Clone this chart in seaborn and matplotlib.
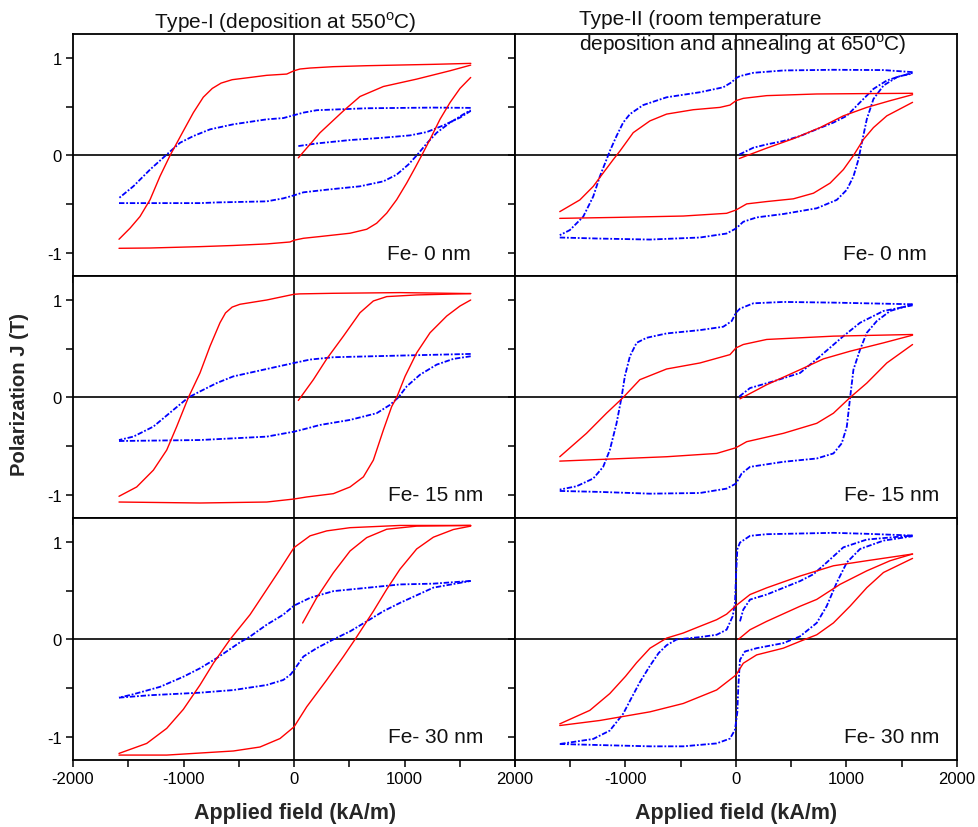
import numpy as np
import pandas as pd
import matplotlib
matplotlib.use("Agg")
import matplotlib.pyplot as plt
import seaborn as sns

# ---------------- data (field kA/m, polarization T) ----------------
# Type-I, Fe 0 nm
T1_0_RED_INIT = [(39,-0.024),(235,0.234),(447,0.459),(597,0.607),(809,0.71),(1110,0.786),(1412,0.872),(1599,0.93)]
T1_0_RED_DOWN = [(1600,0.948),(1261,0.938),(658,0.924),(356,0.914),(145,0.9),(54,0.89),(0,0.872),(-66,0.838),(-247,0.825),
                 (-398,0.803),(-560,0.78),(-660,0.745),(-740,0.69),(-821,0.6),(-911,0.441),(-1002,0.252),(-1122,0.0),
                 (-1213,-0.214),(-1303,-0.455),(-1394,-0.628),(-1484,-0.748),(-1584,-0.862)]
T1_0_RED_UP = [(-1584,-0.955),(-1303,-0.952),(-851,-0.938),(-549,-0.926),(-247,-0.91),(-36,-0.89),(0,-0.872),(85,-0.852),
               (235,-0.834),(507,-0.8),(658,-0.759),(748,-0.697),(839,-0.593),(929,-0.455),(1020,-0.283),(1095,-0.128),
               (1155,0.0),(1231,0.166),(1321,0.372),(1412,0.545),(1502,0.69),(1599,0.803)]
T1_0_BLUE_INIT = [(39,0.097),(205,0.124),(507,0.159),(809,0.183),(1050,0.207),(1201,0.241),(1352,0.31),(1502,0.39),(1599,0.459)]
T1_0_BLUE_DOWN = [(1599,0.49),(1261,0.493),(658,0.486),(205,0.466),(85,0.441),(0,0.415),(-97,0.385),(-247,0.372),(-549,0.321),
                  (-760,0.269),(-911,0.2),(-1032,0.131),(-1152,0.01),(-1303,-0.145),(-1454,-0.317),(-1584,-0.438)]
T1_0_BLUE_UP = [(-1584,-0.49),(-851,-0.49),(-700,-0.483),(-247,-0.472),(-97,-0.441),(0,-0.41),(85,-0.379),(296,-0.352),
                (597,-0.317),(809,-0.266),(929,-0.197),(1035,-0.093),(1110,0.0),(1201,0.124),(1291,0.234),(1412,0.338),
                (1533,0.424),(1599,0.466)]

# Type-II, Fe 0 nm
T2_0_RED_INIT = [(30,-0.031),(278,0.076),(519,0.173),(761,0.287),(972,0.408),(1184,0.495),(1395,0.564),(1598,0.626)]
T2_0_RED_DOWN = [(1598,0.64),(1184,0.637),(731,0.633),(278,0.616),(66,0.588),(0,0.564),(-54,0.519),(-145,0.495),(-387,0.471),
                 (-628,0.426),(-779,0.356),(-930,0.235),(-1051,0.045),(-1111,-0.042),(-1202,-0.18),(-1292,-0.318),
                 (-1413,-0.457),(-1595,-0.578)]
T2_0_RED_UP = [(-1595,-0.647),(-1081,-0.637),(-477,-0.623),(-85,-0.595),(0,-0.561),(97,-0.498),(278,-0.474),(519,-0.446),
               (701,-0.388),(852,-0.284),(972,-0.145),(1063,0.0),(1154,0.166),(1244,0.287),(1365,0.408),(1598,0.547)]
T2_0_BLUE_INIT = [(30,0.01),(157,0.08),(278,0.114),(429,0.149),(580,0.2),(731,0.27),(882,0.339),(1003,0.408),(1123,0.547),
                  (1244,0.685),(1365,0.772),(1486,0.817),(1598,0.844)]
T2_0_BLUE_DOWN = [(1598,0.858),(1335,0.879),(882,0.882),(429,0.875),(157,0.851),(36,0.817),(0,0.796),(-39,0.754),(-115,0.702),
                  (-326,0.651),(-628,0.599),(-840,0.519),(-960,0.426),(-1021,0.339),(-1081,0.201),(-1142,0.045),
                  (-1172,-0.042),(-1232,-0.215),(-1292,-0.422),(-1383,-0.63),(-1504,-0.768),(-1595,-0.82)]
T2_0_BLUE_UP = [(-1595,-0.844),(-1232,-0.855),(-779,-0.865),(-326,-0.844),(-85,-0.803),(0,-0.751),(66,-0.682),(187,-0.637),
                (429,-0.602),(731,-0.543),(912,-0.457),(1003,-0.353),(1063,-0.215),(1108,-0.042),(1139,0.131),(1184,0.374),
                (1244,0.581),(1335,0.72),(1456,0.806),(1598,0.851)]

# Type-I, Fe 15 nm
T1_15_RED_INIT = [(39,-0.031),(175,0.183),(296,0.397),(447,0.631),(597,0.872),(718,0.993),(839,1.038),(1110,1.055),(1599,1.069)]
T1_15_RED_DOWN = [(1599,1.069),(959,1.079),(356,1.072),(54,1.066),(0,1.062),(-247,1.003),(-489,0.959),(-560,0.93),
                  (-620,0.87),(-670,0.769),(-760,0.528),(-851,0.252),(-956,0.0),(-1062,-0.3),(-1152,-0.541),(-1273,-0.748),
                  (-1424,-0.921),(-1584,-1.017)]
T1_15_RED_UP = [(-1584,-1.076),(-851,-1.086),(-247,-1.076),(0,-1.045),(115,-1.024),(356,-0.99),(507,-0.921),
                (628,-0.817),(718,-0.645),(809,-0.334),(884,-0.093),(929,0.0),(1005,0.217),(1110,0.459),(1231,0.666),
                (1382,0.838),(1502,0.941),(1599,1.003)]
T1_15_BLUE_DOWN = [(1599,0.448),(959,0.431),(356,0.414),(145,0.39),(0,0.355),(-247,0.293),(-549,0.217),(-700,0.148),
                   (-851,0.062),(-956,0.0),(-1092,-0.128),(-1273,-0.3),(-1454,-0.403),(-1584,-0.438)]
T1_15_BLUE_UP = [(-1584,-0.448),(-851,-0.438),(-247,-0.403),(0,-0.352),(85,-0.328),(235,-0.283),(507,-0.231),
                 (748,-0.162),(869,-0.076),(944,0.0),(1020,0.114),(1140,0.234),(1291,0.338),(1442,0.397),(1599,0.424)]

# Type-II, Fe 15 nm
T2_15_RED_INIT = [(36,-0.014),(278,0.131),(580,0.286),(791,0.397),(1033,0.476),(1335,0.562),(1598,0.641)]
T2_15_RED_DOWN = [(1598,0.648),(882,0.631),(278,0.597),(66,0.545),(0,0.51),(-54,0.441),(-326,0.355),(-628,0.293),
                  (-870,0.183),(-1021,0.0),(-1172,-0.162),(-1353,-0.369),(-1595,-0.61)]
T2_15_RED_UP = [(-1595,-0.655),(-1232,-0.638),(-628,-0.61),(-175,-0.576),(0,-0.517),(97,-0.455),(429,-0.369),(731,-0.266),
                (882,-0.162),(1033,0.0),(1184,0.148),(1365,0.355),(1598,0.545)]
T2_15_BLUE_INIT = [(30,0.01),(127,0.097),(338,0.166),(580,0.252),(761,0.424),(972,0.631),(1123,0.769),(1335,0.89),(1598,0.948)]
T2_15_BLUE_DOWN = [(1598,0.959),(882,0.976),(429,0.983),(157,0.969),(36,0.914),(0,0.872),(-39,0.786),(-115,0.728),(-326,0.693),
                   (-628,0.659),(-809,0.614),(-900,0.562),(-960,0.424),(-1006,0.217),(-1036,0.0),(-1081,-0.266),
                   (-1142,-0.541),(-1202,-0.714),(-1292,-0.834),(-1443,-0.914),(-1595,-0.948)]
T2_15_BLUE_UP = [(-1595,-0.962),(-1232,-0.972),(-779,-0.99),(-326,-0.983),(-85,-0.938),(0,-0.886),(51,-0.783),(127,-0.714),
                 (429,-0.662),(731,-0.628),(882,-0.576),(957,-0.472),(1003,-0.3),(1033,0.0),(1063,0.286),(1123,0.493),
                 (1184,0.666),(1274,0.786),(1395,0.89),(1598,0.959)]

# Type-I, Fe 30 nm
T1_30_RED_INIT = [(78,0.169),(205,0.428),(356,0.686),(507,0.91),(658,1.048),(839,1.134),(1110,1.166),(1599,1.173)]
T1_30_RED_DOWN = [(1599,1.173),(959,1.173),(507,1.15),(296,1.117),(145,1.066),(0,0.945),(-127,0.72),(-247,0.514),
                  (-398,0.255),(-579,0.0),(-730,-0.245),(-851,-0.469),(-1002,-0.72),(-1152,-0.915),(-1333,-1.07),
                  (-1584,-1.173)]
T1_30_RED_UP = [(-1584,-1.19),(-1152,-1.19),(-851,-1.169),(-549,-1.148),(-308,-1.107),(-127,-1.02),(0,-0.9),(115,-0.693),
                (296,-0.417),(447,-0.176),(552,0.0),(718,0.29),(839,0.516),(959,0.723),(1110,0.931),(1261,1.052),
                (1442,1.131),(1599,1.166)]
T1_30_BLUE_DOWN = [(1599,0.602),(1261,0.574),(959,0.566),(658,0.531),(356,0.497),(145,0.428),(0,0.348),(-97,0.255),
                   (-247,0.152),(-398,0.03),(-489,-0.03),(-700,-0.193),(-851,-0.297),(-1002,-0.384),(-1213,-0.488),
                   (-1454,-0.564),(-1584,-0.599)]
T1_30_BLUE_UP = [(-1584,-0.599),(-1303,-0.574),(-851,-0.548),(-549,-0.521),(-247,-0.469),(-97,-0.417),(-30,-0.36),(0,-0.314),
                 (85,-0.176),(205,-0.09),(356,0.0),(507,0.083),(658,0.186),(808,0.29),(959,0.376),(1261,0.533),(1599,0.602)]

# Type-II, Fe 30 nm
T2_30_RED_INIT = [(21,0.0),(127,0.1),(278,0.186),(579,0.341),(731,0.412),(942,0.567),(1184,0.706),(1395,0.81),(1598,0.879)]
T2_30_RED_DOWN = [(1598,0.879),(1184,0.81),(882,0.758),(579,0.652),(278,0.531),(127,0.462),(0,0.348),(-85,0.26),
                  (-175,0.203),(-326,0.135),(-477,0.066),(-627,0.014),(-778,-0.09),(-900,-0.24),(-1000,-0.38),
                  (-1142,-0.557),(-1323,-0.73),(-1595,-0.869)]
T2_30_RED_UP = [(-1595,-0.886),(-1232,-0.834),(-778,-0.745),(-477,-0.659),(-175,-0.52),(0,-0.366),(66,-0.245),(187,-0.159),
                (428,-0.09),(579,-0.02),(731,0.048),(882,0.17),(1033,0.343),(1184,0.533),(1335,0.689),(1598,0.834)]
T2_30_BLUE_INIT = [(36,0.186),(66,0.307),(127,0.41),(278,0.462),(579,0.6),(701,0.671),(821,0.792),(972,0.948),
                   (1184,1.028),(1598,1.069)]
T2_30_BLUE_DOWN = [(1598,1.069),(1184,1.087),(882,1.097),(278,1.083),(127,1.066),(36,0.997),(12,0.928),(2,0.7),(-9,0.376),
                   (-30,0.238),(-85,0.1),(-175,0.048),(-326,0.024),(-537,0.0),(-628,-0.06),(-700,-0.14),(-778,-0.27),
                   (-870,-0.44),(-945,-0.6),(-1021,-0.765),(-1142,-0.938),(-1292,-1.024),(-1595,-1.076)]
T2_30_BLUE_UP = [(-1595,-1.076),(-1232,-1.087),(-779,-1.1),(-477,-1.1),(-175,-1.07),(-54,-1.02),(-9,-0.93),(12,-0.75),
                 (21,-0.49),(36,-0.21),(81,-0.124),(187,-0.09),(428,-0.038),(579,0.031),(731,0.17),(821,0.343),
                 (912,0.585),(1003,0.792),(1123,0.931),(1335,1.017),(1598,1.062)]

COL_TITLES = ["Type-I (deposition at 550$^\\mathrm{o}$C)",
              ["Type-II (room temperature", "deposition and annealing at 650$^\\mathrm{o}$C)"]]
ROW_LABELS = ["Fe- 0 nm", "Fe- 15 nm", "Fe- 30 nm"]
X_LABEL = "Applied field (kA/m)"
Y_LABEL = "Polarization J (T)"

PANELS = [
    [dict(red=[T1_0_RED_INIT, T1_0_RED_DOWN, T1_0_RED_UP], blue=[T1_0_BLUE_INIT, T1_0_BLUE_DOWN, T1_0_BLUE_UP]),
     dict(red=[T2_0_RED_INIT, T2_0_RED_DOWN, T2_0_RED_UP], blue=[T2_0_BLUE_INIT, T2_0_BLUE_DOWN, T2_0_BLUE_UP])],
    [dict(red=[T1_15_RED_INIT, T1_15_RED_DOWN, T1_15_RED_UP], blue=[T1_15_BLUE_DOWN, T1_15_BLUE_UP]),
     dict(red=[T2_15_RED_INIT, T2_15_RED_DOWN, T2_15_RED_UP], blue=[T2_15_BLUE_INIT, T2_15_BLUE_DOWN, T2_15_BLUE_UP])],
    [dict(red=[T1_30_RED_INIT, T1_30_RED_DOWN, T1_30_RED_UP], blue=[T1_30_BLUE_DOWN, T1_30_BLUE_UP]),
     dict(red=[T2_30_RED_INIT, T2_30_RED_DOWN, T2_30_RED_UP], blue=[T2_30_BLUE_INIT, T2_30_BLUE_DOWN, T2_30_BLUE_UP])],
]

# ---------------- style ----------------
sns.set_theme(style="ticks")
plt.rcParams["font.family"] = ["Liberation Sans", "DejaVu Sans"]
plt.rcParams["axes.unicode_minus"] = False
plt.rcParams["mathtext.fontset"] = "custom"
plt.rcParams["mathtext.rm"] = "Liberation Sans"

fig = plt.figure(figsize=(9.79, 8.28), dpi=100)
gs = fig.add_gridspec(3, 2, left=0.0746, right=0.9775, top=0.9577, bottom=0.081, hspace=0, wspace=0)

label_xfrac = [[0.90, 0.932], [0.928, 0.961], [0.928, 0.961]]

for r in range(3):
    for c in range(2):
        ax = fig.add_subplot(gs[r, c])
        ax.axhline(0, color="black", lw=1.2, zorder=1)
        ax.axvline(0, color="black", lw=1.2, zorder=1)
        p = PANELS[r][c]
        for seg in p["red"]:
            df = pd.DataFrame(seg, columns=["H", "J"])
            sns.lineplot(data=df, x="H", y="J", sort=False, estimator=None, color="#ff0000", lw=1.0, ax=ax, zorder=3)
        for seg in p["blue"]:
            df = pd.DataFrame(seg, columns=["H", "J"])
            sns.lineplot(data=df, x="H", y="J", sort=False, estimator=None, color="#0000ff", lw=1.3,
                         ls=(0, (3, 1, 1, 1)), ax=ax, zorder=2)
        ax.set_xlim(-2000, 2000)
        ax.set_ylim(-1.24, 1.25)
        ax.set_xticks([-2000, -1000, 0, 1000, 2000])
        ax.set_xticks([-1500, -500, 500, 1500], minor=True)
        ax.set_yticks([-1, 0, 1])
        ax.set_yticks([-0.5, 0.5], minor=True)
        ax.tick_params(which="both", direction="out", length=5, width=1.1, color="black",
                       labelsize=12, labelcolor="black", pad=3)
        for s in ax.spines.values():
            s.set_linewidth(1.3)
            s.set_color("black")
            s.set_visible(True)
        ax.set_xlabel("")
        ax.set_ylabel("")
        if r < 2:
            ax.set_xticklabels([])
        else:
            if c == 0:
                ax.set_xticklabels(["-2000", "-1000", "0", "1000", "2000"])
            else:
                ax.set_xticklabels(["", "-1000", "0", "1000", "2000"])
        if c == 1:
            ax.set_yticklabels([])
        else:
            ax.set_yticklabels(["-1", "0", "1"])
        ax.text(label_xfrac[r][c], 0.095, ROW_LABELS[r], transform=ax.transAxes, ha="right", va="center",
                fontsize=15, color="#111111")

fig.text(0.291, 0.973, COL_TITLES[0], ha="center", va="center", fontsize=15, color="#111111")
fig.text(0.591, 0.976, COL_TITLES[1][0], ha="left", va="center", fontsize=15, color="#111111")
fig.text(0.591, 0.946, COL_TITLES[1][1], ha="left", va="center", fontsize=15, color="#111111")
fig.text(0.301, 0.017, X_LABEL, ha="center", va="center", fontsize=15.5, fontweight="bold")
fig.text(0.752, 0.017, X_LABEL, ha="center", va="center", fontsize=15.5, fontweight="bold")
fig.text(0.0204, 0.524, Y_LABEL, ha="center", va="center", rotation=90, fontsize=14.6, fontweight="bold")

fig.savefig("out.png", dpi=100)
